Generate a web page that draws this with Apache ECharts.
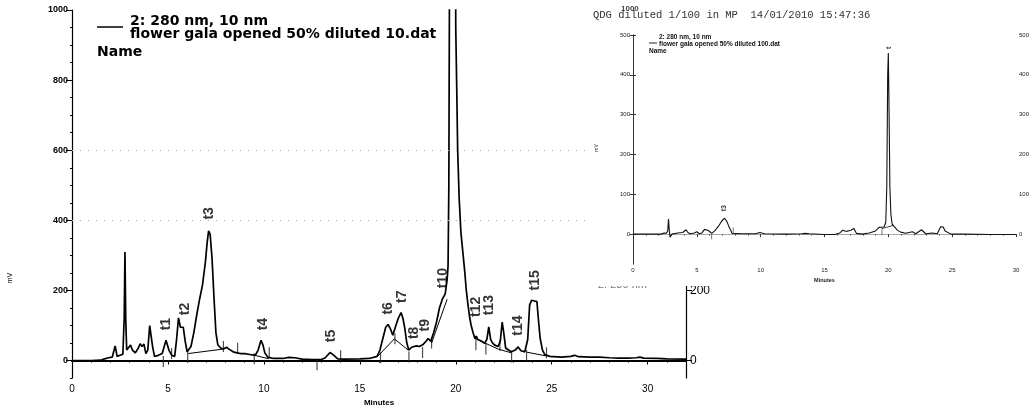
<!DOCTYPE html>
<html>
<head>
<meta charset="utf-8">
<script src="https://cdn.jsdelivr.net/npm/echarts@6/dist/echarts.min.js"></script>
<style>
  html, body { margin: 0; background: #fff; }
  #chart { width: 1033px; height: 412px; }
</style>
</head>
<body>
<div id="chart"></div>
<script>
// main run: [minutes, mV]
const mainTrace = [
  [0,0],[1.0,0],[1.5,1],[1.7,5],[1.8,3],[1.9,8],[2.0,4],[2.1,10],[2.25,42],[2.35,12],
  [2.5,15],[2.65,18],[2.72,120],[2.76,310],[2.8,120],[2.85,30],[2.95,25],[3.05,44],[3.15,30],[3.3,22],
  [3.45,35],[3.55,48],[3.65,40],[3.75,47],[3.85,20],[3.95,30],[4.05,100],[4.12,102],[4.2,40],[4.3,12],
  [4.5,15],[4.7,20],[4.9,58],[5.05,30],[5.2,15],[5.35,12],[5.45,60],[5.55,122],[5.65,95],[5.72,100],
  [5.8,95],[5.9,55],[6.0,25],[6.06,20],[6.2,40],[6.35,80],[6.5,130],[6.65,175],[6.8,215],[6.95,280],
  [7.05,340],[7.12,370],[7.2,360],[7.3,290],[7.4,180],[7.5,80],[7.6,45],[7.75,36],[7.9,33],[8.05,38],
  [8.2,32],[8.4,25],[8.6,22],[8.8,20],[9.0,20],[9.2,18],[9.4,16],[9.55,15],[9.7,30],[9.85,58],
  [9.95,45],[10.05,22],[10.2,10],[10.5,6],[11.0,6],[11.3,9],[11.6,8],[12.0,4],[12.5,3],[13.0,3],
  [13.2,8],[13.45,23],[13.65,15],[13.85,5],[14.2,4],[15.0,5],[15.5,6],[15.9,12],[16.05,30],[16.2,63],
  [16.35,95],[16.47,103],[16.6,90],[16.72,72],[16.85,95],[17.0,120],[17.15,137],[17.25,120],[17.35,90],[17.45,50],
  [17.55,30],[17.7,38],[17.8,40],[17.95,42],[18.1,40],[18.3,46],[18.45,55],[18.56,63],[18.7,55],[18.85,80],
  [19.0,110],[19.15,150],[19.3,175],[19.45,190],[19.55,230],[19.6,270],[19.64,500],[19.68,1200],[19.75,2000],[19.95,2000],
  [20.0,950],[20.05,780],[20.1,600],[20.18,460],[20.27,365],[20.39,298],[20.47,253],[20.55,200],[20.64,158],[20.72,125],
  [20.8,101],[20.9,80],[21.0,62],[21.07,70],[21.15,60],[21.25,58],[21.35,55],[21.5,49],[21.62,60],[21.72,96],
  [21.82,60],[21.92,50],[22.03,44],[22.2,40],[22.32,55],[22.42,110],[22.5,80],[22.6,36],[22.75,30],[22.9,25],
  [23.1,30],[23.25,39],[23.4,28],[23.6,25],[23.75,60],[23.85,158],[23.95,172],[24.1,170],[24.23,168],[24.32,110],
  [24.4,63],[24.52,30],[24.64,17],[24.9,12],[25.5,10],[26.0,12],[26.2,15],[26.4,11],[27.0,10],[27.5,10],
  [28.0,8],[28.5,7],[29.0,7],[29.4,8],[29.6,10],[29.8,7],[30.5,6],[31.0,5],[32.0,4]
];
// integration baselines, null breaks the line
const mainBaseTime  = [6.06, 7.9, 8.0, 9.53, 10.25, 10.3, 15.95, 16.8, 17.52, 17.6, 18.74, 19.55, 19.6, 21.05, 22.2, 22.9, 23.0, 23.7, 24.73];
const mainBaseValue = [20, 33, null, 15, 5, null, 13, 62, 30, null, 50, 175, null, 62, 33, 22, null, 24, 13];
// peak start/end marks
const mainMarkTime  = [4.76, 5.19, 6.03, 7.89, 8.63, 9.5, 10.28, 12.77, 14.0, 16.08, 16.83, 17.56, 18.27, 18.74, 21.05, 21.57, 22.3, 22.91, 23.69, 24.73];
const mainMarkLevel = [-3, 20, 10, 40, 35, 5, 22, -12, 14, 8, 62, 10, 23, 50, 45, 33, 43, 10, 14, 22];
const peakNames = ['t1','t2','t3','t4','t5','t6','t7','t8','t9','t10','t12','t13','t14','t15'];
const peakTime  = [4.93, 5.89, 7.14, 9.95, 13.53, 16.47, 17.18, 17.85, 18.4, 19.33, 21.08, 21.73, 23.24, 24.13];
const peakLabelLevel = [104, 147, 420, 104, 70, 149, 182, 79, 101, 235, 153, 158, 100, 229];
const mainYTicks = [0, 200, 400, 600, 800, 1000];

// inset run (diluted 100)
const insetTrace = [
  [0,0],[2.2,0],[2.25,-3],[2.44,3],[2.6,2],[2.72,8],[2.78,38],[2.84,10],[2.9,-8],[3.05,0],
  [3.16,2],[3.5,3],[3.9,4],[4.16,11],[4.3,4],[4.47,1],[4.8,3],[5.0,6],[5.2,1],[5.4,3],
  [5.6,12],[5.9,9],[6.17,2],[6.4,8],[6.7,20],[6.95,33],[7.17,40],[7.35,32],[7.5,20],[7.76,2],
  [7.9,0],[8.5,1],[9.6,1],[9.93,4],[10.3,1],[12,0],[13.2,1],[13.5,2],[13.8,1],[15,-1],
  [15.8,-1],[16.2,3],[16.44,10],[16.6,8],[16.78,7],[17.05,10],[17.3,14],[17.5,2],[17.95,0],[18.5,3],
  [19.0,8],[19.27,17],[19.66,18],[19.8,30],[19.88,120],[19.95,400],[20.0,455],[20.06,300],[20.12,120],[20.2,50],
  [20.3,25],[20.45,23],[20.7,10],[20.96,5],[21.35,2],[21.89,6],[22.15,1],[22.6,11],[22.93,1],[23.45,3],
  [23.84,1],[24.0,12],[24.1,18.5],[24.3,18],[24.45,8],[24.57,3],[24.9,0],[26,0],[28,-1],[30,-1]
];
const insetBase = [[19.5, 14], [20.4, 22]];
const insetMarkTime  = [6.16, 7.85, 19.5];
const insetMarkLevel = [-4, 8, 6];
const insetPeakNames = ['t3', 't'];
const insetPeakTime  = [7.17, 20.07];
const insetPeakLevel = [65, 468];
const insetYTicks = [0, 100, 200, 300, 400, 500];

const chart = echarts.init(document.getElementById('chart'));

const baseData = mainBaseTime.map((t, i) => [t, mainBaseValue[i] === null ? '-' : mainBaseValue[i]]);
const markData = mainMarkTime.map((t, i) => [t, mainMarkLevel[i]]);
const peakData = peakTime.map((t, i) => ({ value: [t, peakLabelLevel[i]], name: peakNames[i] }));
const insetMarkData = insetMarkTime.map((t, i) => [t, insetMarkLevel[i]]);
const insetPeakData = insetPeakTime.map((t, i) => ({ value: [t, insetPeakLevel[i]], name: insetPeakNames[i] }));

const FONT = 'Liberation Sans, Arial, sans-serif';
const WIDE = 'DejaVu Sans, sans-serif';
const INSET_Z = 60;
const plain = (v) => String(v);

function peakLabel(size) {
  return {
    show: true, position: 'inside', rotate: 90, formatter: '{b}',
    color: '#000', fontFamily: FONT, fontWeight: 'bold', fontSize: size
  };
}

chart.setOption({
  animation: false,
  backgroundColor: '#fff',
  grid: [
    { left: 72, right: 347, top: 10, bottom: 33 },
    { left: 633, right: 17, top: 35, bottom: 148, z: INSET_Z }
  ],
  xAxis: [
    {
      gridIndex: 0, type: 'value', min: 0, max: 32, interval: 5, position: 'bottom',
      axisLine: { lineStyle: { color: '#000', width: 1.5 } },
      axisTick: { length: 4, lineStyle: { color: '#000' } },
      minorTick: { show: true, splitNumber: 5, length: 2, lineStyle: { color: '#000' } },
      axisLabel: { color: '#000', fontSize: 10, fontFamily: FONT, margin: 6, showMaxLabel: false },
      splitLine: { show: false },
      name: 'Minutes', nameLocation: 'middle', nameGap: 19,
      nameTextStyle: { color: '#000', fontSize: 8, fontWeight: 'bold', fontFamily: FONT }
    },
    {
      gridIndex: 0, type: 'value', min: 0, max: 32, position: 'top',
      axisLine: { lineStyle: { color: '#000', width: 2 } },
      axisTick: { show: false }, axisLabel: { show: false }, splitLine: { show: false }
    },
    {
      gridIndex: 1, type: 'value', min: 0, max: 30, interval: 5, position: 'bottom', z: INSET_Z,
      axisLine: { lineStyle: { color: '#333', width: 1 } },
      axisTick: { length: 3, lineStyle: { color: '#333' } },
      minorTick: { show: true, splitNumber: 5, length: 1.5, lineStyle: { color: '#555' } },
      axisLabel: { color: '#222', fontSize: 6, fontFamily: FONT, margin: 3 },
      splitLine: { show: false },
      name: 'Minutes', nameLocation: 'middle', nameGap: 11,
      nameTextStyle: { color: '#222', fontSize: 5.5, fontWeight: 'bold', fontFamily: FONT }
    },
    {
      gridIndex: 1, type: 'value', min: 0, max: 30, position: 'top', z: INSET_Z,
      axisLine: { lineStyle: { color: '#aaa', width: 1 } },
      axisTick: { show: false }, axisLabel: { show: false }, splitLine: { show: false }
    }
  ],
  yAxis: [
    {
      gridIndex: 0, type: 'value', min: -50, max: 1000, position: 'left',
      axisLine: { show: true, lineStyle: { color: '#000', width: 1.2 } },
      axisTick: { show: true, customValues: mainYTicks, length: 6, lineStyle: { color: '#000' } },
      axisLabel: { customValues: mainYTicks, formatter: plain, color: '#000', fontSize: 9, fontWeight: 'bold', fontFamily: FONT, margin: 4 },
      splitLine: { show: false }
    },
    {
      gridIndex: 0, type: 'value', min: -50, max: 1000, interval: 50, position: 'left',
      axisLine: { show: false },
      axisTick: { show: true, length: 2, lineStyle: { color: '#000' } },
      axisLabel: { show: false }, splitLine: { show: false }
    },
    {
      gridIndex: 0, type: 'value', min: -50, max: 1000, position: 'right',
      axisLine: { show: true, lineStyle: { color: '#000', width: 1.2 } },
      axisTick: { show: true, customValues: mainYTicks, length: 6, lineStyle: { color: '#000' } },
      axisLabel: { customValues: mainYTicks, formatter: plain, color: '#000', fontSize: 12, fontFamily: FONT, margin: 4 },
      splitLine: { show: false }
    },
    {
      gridIndex: 1, type: 'value', min: -75, max: 500, position: 'left', z: INSET_Z,
      axisLine: { show: true, lineStyle: { color: '#333', width: 1 } },
      axisTick: { show: true, customValues: insetYTicks, length: 3, lineStyle: { color: '#333' } },
      axisLabel: { customValues: insetYTicks, color: '#222', fontSize: 6, fontFamily: FONT, margin: 3 },
      splitLine: { show: false }
    },
    {
      gridIndex: 1, type: 'value', min: -75, max: 500, position: 'right', z: INSET_Z,
      axisLine: { show: true, lineStyle: { color: '#333', width: 1 } },
      axisTick: { show: true, customValues: insetYTicks, length: 3, lineStyle: { color: '#333' } },
      axisLabel: { customValues: insetYTicks, color: '#222', fontSize: 6, fontFamily: FONT, margin: 3 },
      splitLine: { show: false }
    }
  ],
  series: [
    {
      type: 'line', xAxisIndex: 0, yAxisIndex: 0, data: mainTrace,
      showSymbol: false, clip: true,
      lineStyle: { color: '#000', width: 1.7 },
      markLine: {
        silent: true, symbol: 'none', label: { show: false },
        lineStyle: { color: '#aaa', type: [1, 7], width: 1 },
        data: [{ yAxis: 400 }, { yAxis: 600 }]
      }
    },
    {
      type: 'line', xAxisIndex: 0, yAxisIndex: 0, data: baseData,
      showSymbol: false, connectNulls: false,
      lineStyle: { color: '#000', width: 1 }
    },
    {
      type: 'scatter', xAxisIndex: 0, yAxisIndex: 0, data: markData,
      symbol: 'rect', symbolSize: [1.2, 11], itemStyle: { color: '#222' }
    },
    {
      type: 'scatter', xAxisIndex: 0, yAxisIndex: 0, data: peakData,
      symbolSize: 1, itemStyle: { color: 'rgba(0,0,0,0)' }, label: peakLabel(14)
    },
    {
      type: 'line', xAxisIndex: 2, yAxisIndex: 3, data: insetTrace, z: INSET_Z,
      showSymbol: false, lineStyle: { color: '#111', width: 1.1 }
    },
    {
      type: 'line', xAxisIndex: 2, yAxisIndex: 3, data: insetBase, z: INSET_Z,
      showSymbol: false, lineStyle: { color: '#111', width: 0.8 }
    },
    {
      type: 'scatter', xAxisIndex: 2, yAxisIndex: 3, data: insetMarkData, z: INSET_Z,
      symbol: 'rect', symbolSize: [1, 7], itemStyle: { color: '#555' }
    },
    {
      type: 'scatter', xAxisIndex: 2, yAxisIndex: 3, data: insetPeakData, z: INSET_Z,
      symbolSize: 1, itemStyle: { color: 'rgba(0,0,0,0)' }, label: peakLabel(7)
    }
  ],
  graphic: [
    // main chart legend
    { type: 'line', z: 10, shape: { x1: 97, y1: 27, x2: 123, y2: 27 }, style: { stroke: '#000', lineWidth: 1.5 } },
    { type: 'text', z: 10, x: 130, y: 21, style: { text: '2: 280 nm, 10 nm', font: 'bold 14px ' + WIDE, fill: '#000', textVerticalAlign: 'middle' } },
    { type: 'text', z: 10, x: 130, y: 34, style: { text: 'flower gala opened 50% diluted 10.dat', font: 'bold 14px ' + WIDE, fill: '#000', textVerticalAlign: 'middle' } },
    { type: 'text', z: 10, x: 97, y: 52, style: { text: 'Name', font: 'bold 14px ' + WIDE, fill: '#000', textVerticalAlign: 'middle' } },
    { type: 'text', z: 10, x: 10, y: 278, rotation: Math.PI / 2, style: { text: 'mV', font: '7px ' + FONT, fill: '#000', textAlign: 'center', textVerticalAlign: 'middle' } },
    // label of a third trace, mostly hidden by the pasted inset
    { type: 'text', z: 40, x: 598, y: 285, style: { text: '2: 280 nm', font: '11px ' + FONT, fill: '#777', textVerticalAlign: 'middle' } },
    // pasted inset sheet
    { type: 'rect', z: 50, shape: { x: 589, y: 0, width: 444, height: 286 }, style: { fill: '#fff' } },
    { type: 'text', z: INSET_Z, x: 621, y: 9, style: { text: '1000', font: 'bold 8px ' + FONT, fill: '#444', textVerticalAlign: 'middle' } },
    { type: 'text', z: INSET_Z, x: 593, y: 15, style: { text: 'QDG diluted 1/100 in MP  14/01/2010 15:47:36', font: '10.5px Liberation Mono, monospace', fill: '#333', textVerticalAlign: 'middle' } },
    { type: 'line', z: INSET_Z, shape: { x1: 649, y1: 43, x2: 657, y2: 43 }, style: { stroke: '#222', lineWidth: 1 } },
    { type: 'text', z: INSET_Z, x: 659, y: 37, style: { text: '2: 280 nm, 10 nm', font: 'bold 6.5px ' + FONT, fill: '#111', textVerticalAlign: 'middle' } },
    { type: 'text', z: INSET_Z, x: 659, y: 44, style: { text: 'flower gala opened 50% diluted 100.dat', font: 'bold 6.5px ' + FONT, fill: '#111', textVerticalAlign: 'middle' } },
    { type: 'text', z: INSET_Z, x: 649, y: 51, style: { text: 'Name', font: 'bold 6.5px ' + FONT, fill: '#111', textVerticalAlign: 'middle' } },
    { type: 'text', z: INSET_Z, x: 597, y: 148, rotation: Math.PI / 2, style: { text: 'mV', font: '5px ' + FONT, fill: '#333', textAlign: 'center', textVerticalAlign: 'middle' } }
  ]
});
</script>
</body>
</html>
